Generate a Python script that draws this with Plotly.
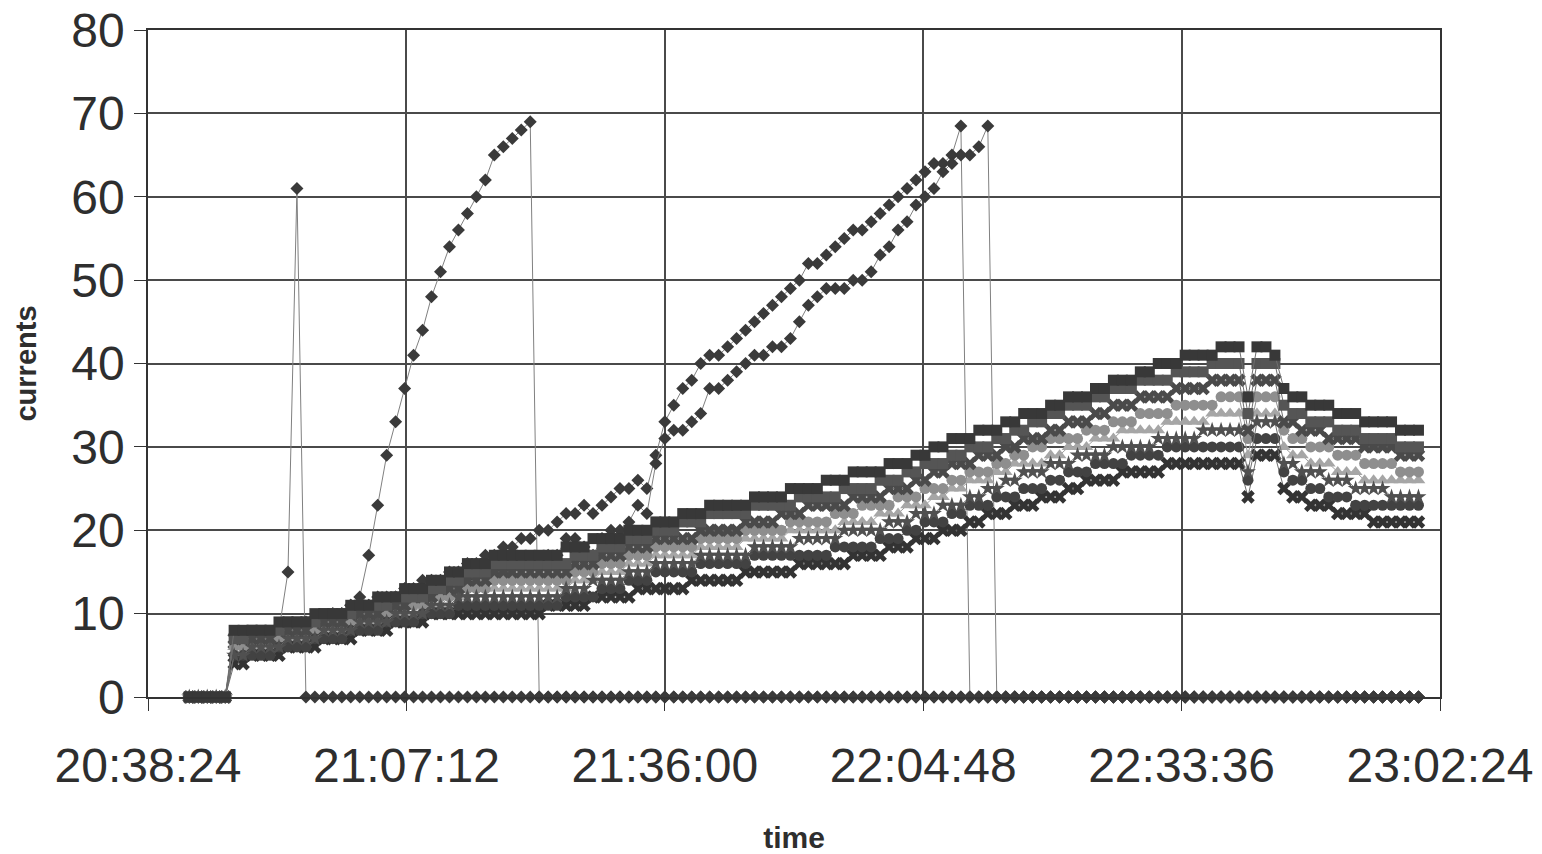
import datetime as dt
import plotly.graph_objects as go

# ---- data (one sample per minute starting 20:43:00) ----
start_time = "2000-01-01 20:43:00"
step_minutes = 1

spike = [0, 0, 0, 0, 0, 6, 6, 7, 7, 7, 8, 15, 61] + [0] * 125

ramp_b = ([0, 0, 0, 0, 0,
           6, 6, 7, 7, 7, 8, 8, 8, 9, 9, 9, 10, 10, 11,
           12, 17, 23, 29, 33, 37, 41, 44, 48, 51, 54, 56, 58, 60, 62, 65, 66, 67, 68, 69]
          + [0] * 99)

ramp_c = ([0, 0, 0, 0, 0,
           6, 6, 7, 7, 7, 8, 8, 8, 9, 9, 9, 10, 10, 11, 11, 11, 12, 12, 12, 13, 13, 14, 14, 14, 15, 15, 16,
           16, 17, 17, 18, 18, 19, 19, 20, 20, 21, 22, 22, 23, 22, 23, 24, 25, 25, 26, 25,
           29, 33, 35, 37, 38, 40, 41, 41, 42, 43, 44, 45, 46, 47, 48, 49, 50, 52, 52, 53,
           54, 55, 56, 56, 57, 58, 59, 60, 61, 62, 63, 64, 64, 65, 68.5]
          + [0] * 51)

ramp_d = ([0, 0, 0, 0, 0,
           5, 6, 6, 7, 7, 7, 8, 8, 8, 9, 9, 9, 10, 10, 10, 11, 11, 11, 12, 12, 12, 13, 13, 13, 14, 14,
           14, 15, 15, 15, 15, 16, 16, 16, 16,
           17, 17, 19, 19, 18, 17, 19, 20, 20, 21, 23, 22,
           28, 31, 32, 32, 33, 34, 37, 37, 38, 39, 40, 41, 41, 42, 42, 43, 45, 47, 48, 49,
           49, 49, 50, 50, 51, 53, 54, 56, 57, 59, 60, 61, 63, 64, 65, 65, 66, 68.5]
          + [0] * 48)

e1 = [0, 0, 0, 0, 0, 4, 4, 5, 5, 5, 5, 6, 6, 6, 6, 7, 7, 7, 7, 8, 8, 8, 8, 9, 9, 9, 9, 10, 10, 10, 10,
      10, 10, 10, 10, 10, 10, 10, 10, 10, 11, 11, 11, 11, 11, 12, 12, 12, 12, 12, 13, 13, 13,
      13, 13, 13, 14, 14, 14, 14, 14, 14, 15, 15, 15, 15, 15, 15, 16, 16, 16, 16, 16, 16, 17, 17,
      17, 17, 18, 18, 18, 19, 19, 19, 20, 20, 20, 21, 21, 22, 22, 22, 23, 23, 23, 24,
      24, 24, 25, 25, 26, 26, 26, 26, 27, 27, 27, 27, 27, 28, 28, 28, 28, 28, 28, 28, 28, 28,
      24, 29, 29, 29, 25, 24, 24, 23, 23, 23, 22, 22, 22, 22, 21, 21, 21, 21, 21, 21]

e2 = [0, 0, 0, 0, 0, 5, 5, 5, 5, 5, 6, 6, 6, 6, 7, 7, 7, 7, 8, 8, 8, 8, 9, 9, 9, 9, 10, 10, 10, 10, 11,
      11, 11, 11, 11, 11, 11, 11, 11, 11, 11, 11, 12, 12, 12, 12, 13, 13, 13, 14, 14, 14, 15,
      15, 15, 15, 15, 16, 16, 16, 16, 16, 16, 17, 17, 17, 17, 17, 17, 17, 17, 17, 18, 18, 18, 18,
      18, 19, 19, 19, 20, 20, 21, 21, 21, 22, 22, 23, 23, 23, 24, 24, 24, 25, 25, 25,
      26, 26, 27, 27, 27, 28, 28, 28, 28, 29, 29, 29, 29, 30, 30, 30, 30, 30, 30, 30, 30, 30,
      26, 31, 31, 31, 27, 26, 26, 25, 25, 24, 24, 24, 23, 23, 23, 23, 23, 23, 23, 23]

e3 = [0, 0, 0, 0, 0, 5, 5, 6, 6, 6, 6, 7, 7, 7, 7, 8, 8, 8, 8, 9, 9, 9, 9, 10, 10, 10, 10, 11, 11, 11, 12,
      12, 12, 12, 12, 12, 12, 12, 12, 12, 12, 12, 13, 13, 13, 14, 14, 14, 14, 15, 15, 15, 16,
      16, 16, 16, 16, 17, 17, 17, 17, 17, 17, 18, 18, 18, 18, 18, 19, 19, 19, 19, 19, 20, 20, 20,
      20, 20, 21, 21, 21, 22, 22, 22, 23, 23, 23, 24, 24, 25, 25, 26, 26, 27, 27, 27,
      28, 28, 28, 29, 29, 29, 29, 30, 30, 30, 30, 30, 31, 31, 31, 31, 31, 32, 32, 32, 32, 32,
      27, 33, 33, 33, 28, 28, 27, 27, 27, 26, 26, 26, 25, 25, 25, 25, 24, 24, 24, 24]

e4 = [0, 0, 0, 0, 0, 6, 6, 6, 6, 6, 7, 7, 7, 7, 8, 8, 8, 8, 9, 9, 9, 9, 10, 10, 10, 10, 11, 11, 11, 12, 12,
      13, 13, 13, 13, 13, 13, 13, 13, 13, 13, 13, 13, 14, 14, 14, 15, 15, 15, 16, 16, 16, 17,
      17, 17, 17, 17, 18, 18, 18, 18, 18, 19, 19, 19, 19, 19, 20, 20, 20, 20, 20, 20, 21, 21, 21,
      21, 22, 22, 22, 23, 23, 23, 24, 24, 25, 25, 26, 26, 26, 27, 27, 28, 28, 28, 28,
      29, 29, 30, 30, 30, 31, 31, 31, 32, 32, 32, 32, 32, 33, 33, 33, 33, 33, 34, 34, 34, 34,
      29, 34, 34, 34, 30, 29, 29, 28, 28, 28, 27, 27, 27, 26, 26, 26, 26, 26, 26, 26]

e5 = [0, 0, 0, 0, 0, 6, 6, 7, 7, 7, 7, 8, 8, 8, 8, 9, 9, 9, 9, 10, 10, 10, 10, 11, 11, 11, 11, 12, 12, 12, 13,
      13, 13, 13, 14, 14, 14, 14, 14, 14, 14, 14, 14, 15, 15, 15, 16, 16, 16, 17, 17, 17, 18,
      18, 18, 18, 18, 19, 19, 19, 19, 19, 20, 20, 20, 20, 20, 21, 21, 21, 21, 21, 22, 22, 22, 23,
      23, 23, 23, 24, 24, 24, 25, 25, 25, 26, 26, 27, 27, 27, 28, 28, 29, 29, 30, 30,
      31, 31, 31, 31, 32, 32, 32, 33, 33, 33, 34, 34, 34, 34, 35, 35, 35, 35, 35, 36, 36, 36,
      31, 36, 36, 36, 32, 31, 31, 30, 30, 30, 29, 29, 29, 28, 28, 28, 28, 27, 27, 27]

e6 = [0, 0, 0, 0, 0, 7, 7, 7, 7, 7, 8, 8, 8, 8, 9, 9, 9, 9, 10, 10, 10, 10, 11, 11, 11, 12, 12, 12, 13, 13, 13,
      14, 14, 14, 15, 15, 15, 15, 15, 15, 15, 15, 15, 16, 16, 16, 17, 17, 17, 18, 18, 18, 19,
      19, 19, 19, 19, 20, 20, 20, 20, 20, 21, 21, 21, 21, 22, 22, 22, 23, 23, 23, 23, 23, 24, 24,
      24, 24, 25, 25, 25, 26, 26, 27, 27, 28, 28, 28, 29, 29, 29, 30, 30, 31, 31, 31,
      32, 32, 33, 33, 33, 34, 34, 35, 35, 35, 36, 36, 36, 36, 37, 37, 37, 37, 38, 38, 38, 38,
      32, 38, 38, 38, 33, 33, 32, 32, 32, 31, 31, 31, 31, 30, 30, 30, 30, 29, 29, 29]

e7 = [0, 0, 0, 0, 0, 7, 7, 8, 8, 8, 8, 9, 9, 9, 9, 10, 10, 10, 10, 11, 11, 11, 11, 12, 12, 12, 12, 13, 13, 14, 14,
      15, 15, 15, 16, 16, 16, 16, 16, 16, 16, 16, 16, 17, 17, 17, 18, 18, 18, 19, 19, 19, 20,
      20, 20, 21, 21, 21, 22, 22, 22, 22, 22, 23, 23, 23, 23, 23, 24, 24, 24, 24, 24, 25, 25, 25,
      25, 26, 26, 26, 27, 27, 28, 28, 28, 29, 29, 30, 30, 30, 31, 31, 32, 32, 33, 33,
      34, 34, 35, 35, 35, 36, 36, 37, 37, 37, 38, 38, 38, 38, 39, 39, 39, 39, 40, 40, 40, 40,
      34, 40, 40, 40, 35, 34, 34, 33, 33, 33, 32, 32, 32, 31, 31, 31, 31, 30, 30, 30]

e8 = [0, 0, 0, 0, 0, 8, 8, 8, 8, 8, 9, 9, 9, 9, 10, 10, 10, 10, 11, 11, 11, 12, 12, 12, 13, 13, 13, 14, 14, 15, 15,
      16, 16, 16, 17, 17, 17, 17, 17, 17, 17, 17, 18, 18, 18, 19, 19, 19, 19, 20, 20, 20, 21,
      21, 21, 22, 22, 22, 23, 23, 23, 23, 23, 24, 24, 24, 24, 25, 25, 25, 25, 26, 26, 26, 27, 27,
      27, 27, 28, 28, 28, 29, 29, 30, 30, 31, 31, 31, 32, 32, 32, 33, 33, 34, 34, 34,
      35, 35, 36, 36, 36, 37, 37, 38, 38, 38, 39, 39, 40, 40, 40, 41, 41, 41, 41, 42, 42, 42,
      36, 42, 42, 41, 37, 36, 36, 35, 35, 35, 34, 34, 34, 33, 33, 33, 33, 32, 32, 32]

x_tick_start = "2000-01-01 20:38:24"
x_range = ["2000-01-01 20:38:24", "2000-01-01 23:02:24"]
y_range = [0, 80]

# ---- styling ----
FONT = "Liberation Sans, Arial, sans-serif"
TXT = "#2e2e2e"
GRID = "#4a4a4a"

base = dt.datetime.strptime(start_time, "%Y-%m-%d %H:%M:%S")


def times_for(vals):
    return [base + dt.timedelta(minutes=step_minutes * i) for i in range(len(vals))]


fig = go.Figure()


def add(vals, symbol, color, size, line_color="#6e6e6e", mline=None):
    marker = dict(symbol=symbol, size=size, color=color)
    marker["line"] = mline if mline else dict(width=0)
    fig.add_trace(go.Scatter(
        x=times_for(vals), y=vals, mode="lines+markers",
        line=dict(color=line_color, width=1),
        marker=marker, cliponaxis=False, showlegend=False,
        hoverinfo="x+y"))


# diamond series
for s in (spike, ramp_b, ramp_c, ramp_d):
    add(s, "diamond", "#3a3a3a", 10, line_color="#808080")

# cluster series
add(e4, "triangle-up", "#a6a6a6", 12, line_color="#a0a0a0")
add(e5, "circle", "#8e8e8e", 11, line_color="#909090")
add(e1, "x", "#333333", 12)
add(e2, "circle", "#424242", 11)
add(e3, "star", "#505050", 12)
add(e6, "x", "#4a4a4a", 12)
add(e7, "square", "#555555", 11)
add(e8, "square", "#383838", 11)

fig.update_layout(
    width=1542, height=854,
    margin=dict(l=148, r=102, t=30, b=157),
    paper_bgcolor="white", plot_bgcolor="white",
    font=dict(family=FONT, color=TXT),
    showlegend=False,
)

fig.update_xaxes(
    type="date", range=x_range, tick0=x_tick_start, dtick=1728000,
    tickformat="%H:%M:%S", tickfont=dict(size=48, color=TXT, family=FONT),
    ticklabelstandoff=14, automargin=False,
    showgrid=True, gridcolor=GRID, gridwidth=1.5,
    showline=True, linecolor="#333333", linewidth=1.5, mirror=True,
    ticks="outside", ticklen=12, tickcolor="#333333", tickwidth=1.2,
    zeroline=False,
    title=dict(text="<b>time</b>", font=dict(size=30, color=TXT, family=FONT), standoff=36),
)

fig.update_yaxes(
    range=y_range, dtick=10, tick0=0, automargin=False,
    tickfont=dict(size=48, color=TXT, family=FONT),
    showgrid=True, gridcolor=GRID, gridwidth=1.5,
    showline=True, linecolor="#333333", linewidth=1.5, mirror=True,
    ticks="outside", ticklen=12, tickcolor="#333333", tickwidth=1.2,
    zeroline=False,
    title=dict(text="<b>currents</b>", font=dict(size=29, color=TXT, family=FONT), standoff=26),
)

fig.write_html("out.html")
